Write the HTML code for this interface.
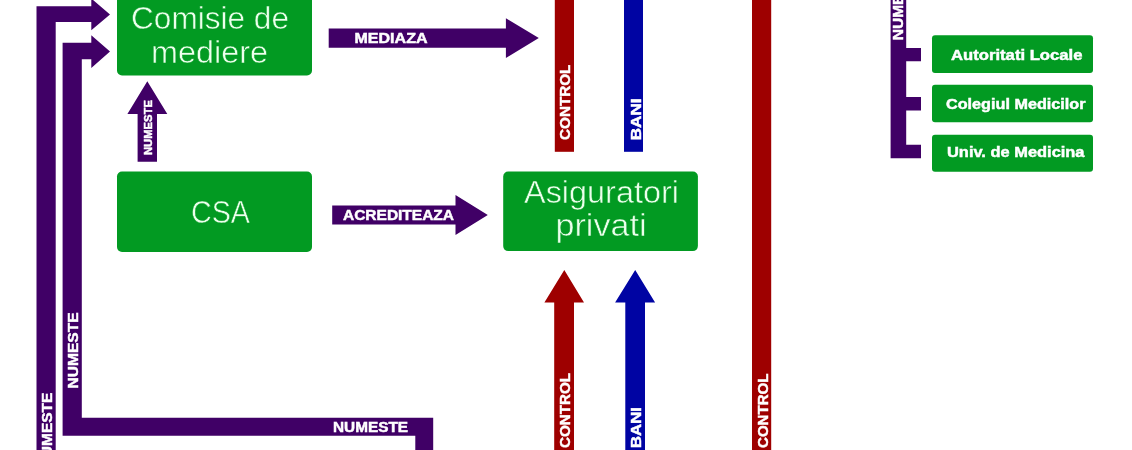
<!DOCTYPE html>
<html><head><meta charset="utf-8">
<style>
html,body{margin:0;padding:0;background:#fff;width:1132px;height:450px;overflow:hidden}
svg{display:block;will-change:transform}
.r{font-family:"Liberation Sans",sans-serif;fill:#ecffec;stroke:#029a22;stroke-width:0.5px}
.b{font-family:"Liberation Sans",sans-serif;font-weight:bold;fill:#fff;stroke:#fff;stroke-width:0.45px}
</style></head><body>
<svg width="1132" height="450" viewBox="0 0 1132 450">

<g fill="#400066">
<polygon points="36.5,460 36.5,6.3 91.3,6.3 91.3,-1.5 110,14.4 91.3,30.3 91.3,22 55.7,22 55.7,460"/>
<polygon points="415.3,460 433.2,460 433.2,417.7 81.8,417.7 81.8,59.2 91.3,59.2 91.3,68 110,51.5 91.3,35.2 91.3,42.7 62.6,42.7 62.6,435.7 415.3,435.7"/>
<polygon points="147.3,81.3 167.3,114 157,114 157,161.7 137.6,161.7 137.6,114 127.4,114"/>
<polygon points="328.7,28.4 505.9,28.4 505.9,18.3 538.8,38 505.9,57.9 505.9,47.7 328.7,47.7"/>
<polygon points="332.2,205.4 455.5,205.4 455.5,195.1 487.8,214.9 455.5,234.9 455.5,224.5 332.2,224.5"/>
<polygon points="890.6,-5 906.2,-5 906.2,48 921,48 921,61.3 906.2,61.3 906.2,97 921,97 921,110.5 906.2,110.5 906.2,144.8 921,144.8 921,158.3 890.6,158.3"/>
</g>
<g fill="#9e0000">
<rect x="554.8" y="-5" width="19.2" height="156.8"/>
<rect x="752" y="-5" width="19.2" height="460"/>
<polygon points="564.3,270.1 584,302.5 574,302.5 574,460 554.2,460 554.2,302.5 544.4,302.5"/>
</g>
<g fill="#0004a3">
<rect x="624" y="-5" width="19" height="156.8"/>
<polygon points="635.2,270.1 655.1,302.5 645,302.5 645,460 625.3,460 625.3,302.5 615.1,302.5"/>
</g>
<g fill="#029a22">
<rect x="117" y="-10" width="195" height="85.5" rx="5"/>
<rect x="117" y="171.5" width="195" height="80.5" rx="5"/>
<rect x="503.2" y="171.6" width="194.7" height="79.5" rx="5"/>
<rect x="932" y="35.2" width="161" height="37.7" rx="3"/>
<rect x="932" y="84.7" width="161" height="37.5" rx="3"/>
<rect x="932" y="134.8" width="161" height="37" rx="3"/>
</g>

<text class="r" x="131.00" y="29.00" font-size="31" textLength="158.00" lengthAdjust="spacingAndGlyphs">Comisie de</text>
<text class="r" x="151.00" y="62.90" font-size="31" textLength="117.00" lengthAdjust="spacingAndGlyphs">mediere</text>
<text class="r" x="191.00" y="223.30" font-size="31" textLength="59.00" lengthAdjust="spacingAndGlyphs">CSA</text>
<text class="r" x="524.00" y="202.70" font-size="31" textLength="155.00" lengthAdjust="spacingAndGlyphs">Asiguratori</text>
<text class="r" x="555.50" y="236.00" font-size="31" textLength="91.00" lengthAdjust="spacingAndGlyphs">privati</text>
<text class="b" x="354.50" y="43.30" font-size="14" textLength="73.00" lengthAdjust="spacingAndGlyphs">MEDIAZA</text>
<text class="b" x="343.00" y="219.80" font-size="14" textLength="111.00" lengthAdjust="spacingAndGlyphs">ACREDITEAZA</text>
<text class="b" x="333.00" y="432.20" font-size="14" textLength="75.00" lengthAdjust="spacingAndGlyphs">NUMESTE</text>
<text class="b" x="951.00" y="59.70" font-size="14.5" textLength="131.50" lengthAdjust="spacingAndGlyphs">Autoritati Locale</text>
<text class="b" x="946.00" y="108.90" font-size="14.5" textLength="139.50" lengthAdjust="spacingAndGlyphs">Colegiul Medicilor</text>
<text class="b" x="947.00" y="157.10" font-size="14.5" textLength="137.50" lengthAdjust="spacingAndGlyphs">Univ. de Medicina</text>
<text class="b" font-size="10.5" transform="translate(151.60,155.00) rotate(-90)" textLength="55.00" lengthAdjust="spacingAndGlyphs">NUMESTE</text>
<text class="b" font-size="14" transform="translate(570.00,140.00) rotate(-90)" textLength="75.40" lengthAdjust="spacingAndGlyphs">CONTROL</text>
<text class="b" font-size="14" transform="translate(640.60,140.30) rotate(-90)" textLength="41.80" lengthAdjust="spacingAndGlyphs">BANI</text>
<text class="b" font-size="14" transform="translate(570.00,448.00) rotate(-90)" textLength="75.00" lengthAdjust="spacingAndGlyphs">CONTROL</text>
<text class="b" font-size="14" transform="translate(640.60,448.00) rotate(-90)" textLength="41.00" lengthAdjust="spacingAndGlyphs">BANI</text>
<text class="b" font-size="14" transform="translate(767.50,448.00) rotate(-90)" textLength="74.50" lengthAdjust="spacingAndGlyphs">CONTROL</text>
<text class="b" font-size="14" transform="translate(77.70,388.50) rotate(-90)" textLength="76.00" lengthAdjust="spacingAndGlyphs">NUMESTE</text>
<text class="b" font-size="14" transform="translate(51.80,468.40) rotate(-90)" textLength="75.80" lengthAdjust="spacingAndGlyphs">NUMESTE</text>
<text class="b" font-size="14" transform="translate(903.10,40.20) rotate(-90)" textLength="75.80" lengthAdjust="spacingAndGlyphs">NUMESTE</text>
</svg>
</body></html>
